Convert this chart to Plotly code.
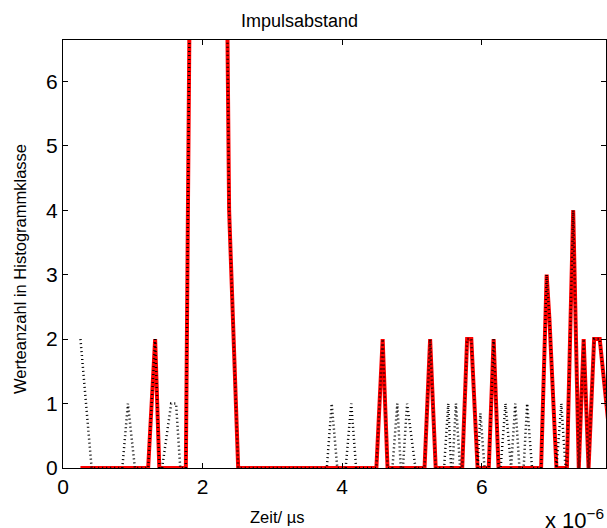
import plotly.graph_objects as go

# Zeit in µs (Achse zeigt x 10^-6 s)
zeit_rot = [0.25, 1.22, 1.32, 1.34, 1.38, 1.76, 1.85, 1.93, 2.02, 2.10, 2.19, 2.31,
            2.38, 2.51, 4.49, 4.58, 4.65, 5.18, 5.26, 5.34, 5.72, 5.79, 5.85, 5.94,
            6.10, 6.17, 6.24, 6.85, 6.93, 6.97, 7.07, 7.22, 7.31, 7.39, 7.46, 7.53,
            7.61, 7.69, 7.88]
werte_rot = [0, 0, 2, 1.2, 0, 0, 12, 15, 14, 17, 13, 12,
             4, 0, 0, 2, 0, 0, 2, 0, 0, 2, 2, 0,
             0, 2, 0, 0, 3, 2.3, 0, 0, 4, 0, 2, 0,
             2, 2, 0]

zeit_schwarz = [0.25, 0.33, 0.41, 0.85, 0.93, 1.03, 1.22, 1.32, 1.34, 1.38, 1.42, 1.55,
                1.62, 1.68, 1.76, 1.85, 1.93, 2.02, 2.10, 2.19, 2.31, 2.38, 2.51, 3.78,
                3.85, 3.93, 4.05, 4.13, 4.20, 4.49, 4.58, 4.65, 4.72, 4.79, 4.84, 4.87,
                4.93, 5.05, 5.18, 5.26, 5.34, 5.46, 5.52, 5.56, 5.58, 5.63, 5.69, 5.72,
                5.79, 5.85, 5.94, 5.98, 6.04, 6.10, 6.17, 6.24, 6.27, 6.34, 6.41, 6.42,
                6.48, 6.54, 6.60, 6.65, 6.72, 6.85, 6.93, 6.97, 7.07, 7.14, 7.20, 7.22,
                7.31, 7.39, 7.46, 7.53, 7.61, 7.69, 7.88]
werte_schwarz = [2, 1, 0, 0, 1, 0, 0, 2, 1.2, 0, 0, 1,
                 1, 0, 0, 12, 15, 14, 17, 13, 12, 4, 0, 0,
                 1, 0, 0, 1, 0, 0, 2, 0, 0, 1, 0, 0,
                 1, 0, 0, 2, 0, 0, 1, 0, 0, 1, 0, 0,
                 2, 2, 0, 0.85, 0, 0, 2, 0, 0, 1, 0, 0,
                 1, 0, 0, 1, 0, 0, 3, 2.3, 0, 1, 0, 0,
                 4, 0, 2, 0, 2, 2, 0]

x_ticks = [0, 2, 4, 6]
y_ticks = [0, 1, 2, 3, 4, 5, 6]

FONT = "Liberation Sans, Arial, Helvetica, sans-serif"

fig = go.Figure()
fig.add_trace(go.Scatter(x=zeit_rot, y=werte_rot, mode="lines",
                         line=dict(color="#ff0000", width=4)))
fig.add_trace(go.Scatter(x=zeit_schwarz, y=werte_schwarz, mode="lines",
                         line=dict(color="#000000", width=2.5, dash="1px,3px")))

axis = dict(showline=True, linecolor="black", linewidth=1, mirror="ticks",
            ticks="inside", ticklen=5, tickcolor="black", showgrid=False,
            zeroline=False, tickfont=dict(family=FONT, size=21, color="black"))

fig.update_layout(
    width=607, height=528,
    margin=dict(l=63, r=1, t=40, b=60),
    paper_bgcolor="white", plot_bgcolor="white",
    showlegend=False,
    xaxis=dict(axis, range=[0, 7.78], tickvals=x_ticks,
               ticktext=[str(t) for t in x_ticks]),
    yaxis=dict(axis, range=[0, 6.64], tickvals=y_ticks),
    annotations=[
        dict(text="Impulsabstand", xref="paper", yref="paper", x=0.435, y=1,
             yshift=7, xanchor="center", yanchor="bottom", showarrow=False,
             font=dict(family=FONT, size=18, color="black")),
        dict(text="Werteanzahl in Histogrammklasse", xref="paper", yref="paper",
             x=0, y=0.5, xshift=-43, yshift=-15, textangle=-90, xanchor="center",
             yanchor="middle", showarrow=False,
             font=dict(family=FONT, size=16.5, color="black")),
        dict(text="Zeit/ µs", xref="paper", yref="paper", x=0.394, y=0,
             yshift=-38, xanchor="center", yanchor="top", showarrow=False,
             font=dict(family=FONT, size=16.5, color="black")),
        dict(text="x 10<sup>−6</sup>", xref="paper", yref="paper", x=1, y=0,
             xshift=0, yshift=-35, xanchor="right", yanchor="top",
             showarrow=False, font=dict(family=FONT, size=22, color="black")),
    ],
)

# drop the default page margin so the figure fills the window exactly
fig.write_html("out.html", config={"displayModeBar": False},
               post_script="document.body.style.margin='0';"
                           "document.body.style.overflow='hidden';")
